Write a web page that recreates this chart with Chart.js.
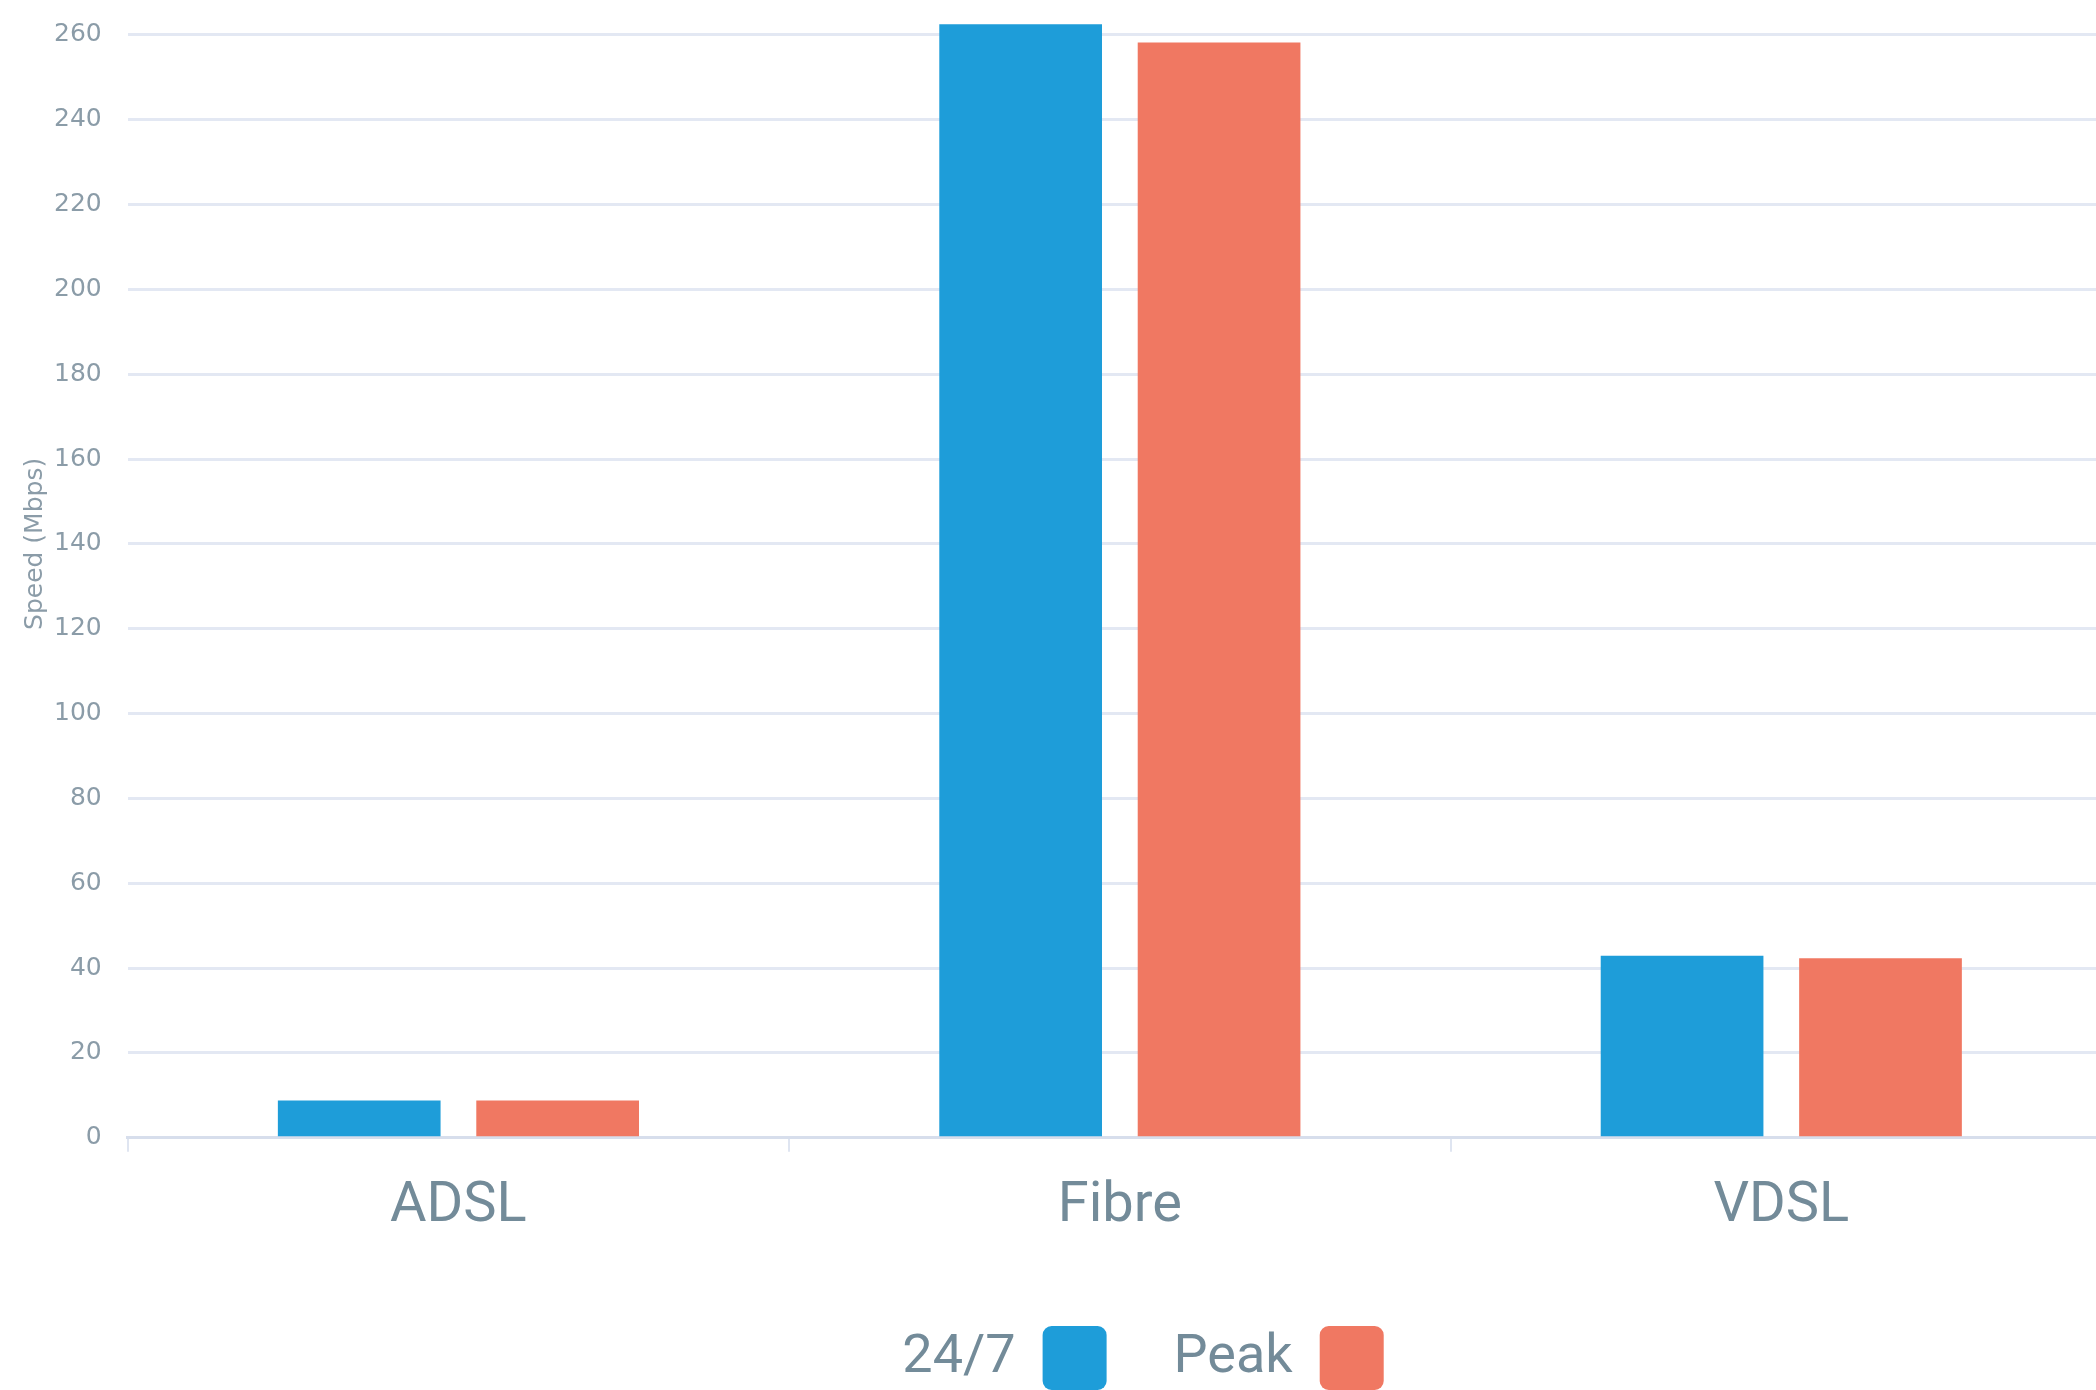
<!DOCTYPE html>
<html>
<head>
<meta charset="utf-8">
<script src="https://cdn.jsdelivr.net/npm/chart.js@4.4.0/dist/chart.umd.min.js"></script>
<style>
    html, body { margin: 0; padding: 0; overflow: hidden; background: #fff; }
    #wrap { position: absolute; left: 0; top: -91px; width: 2112px; height: 1491px; }
</style>
</head>
<body>
<div id="wrap"><canvas id="myChart"></canvas></div>
<script>
'use strict'

var categories = ['ADSL', 'Fibre', 'VDSL'];
var allDay = [8.8, 262.5, 42.9];
var peak = [8.8, 258.2, 42.3];
var yTickValues = [0, 20, 40, 60, 80, 100, 120, 140, 160, 180, 200, 220, 240, 260, 280];

var labelColor = '#738b99';
var tickColor = '#8b9ca8';

// legend sits a bit right of centre in the original
var legendShift = {
    id: 'legendShift',
    afterLayout: function (chart) {
        chart.legend.left += 82;
        chart.legend.right += 82;
    }
};

var ctx = document.getElementById('myChart').getContext('2d');

var chart = new Chart(ctx, {
    type: 'bar',
    data: {
        labels: categories,
        datasets: [{
                label: '24/7',
                backgroundColor: '#1e9dd9',
                data: allDay,
        },
            {
                label: 'Peak',
                backgroundColor: '#f07862',
                data: peak,
        }]
    },
    plugins: [legendShift],
    options: {
        animation: false,
        responsive: true,
        maintainAspectRatio: false,
        barPercentage: 0.82,
        categoryPercentage: 0.6,
        layout: {
            padding: { top: 0, left: 10, right: 0, bottom: 0 }
        },
        plugins: {
            tooltip: { enabled: false },
            legend: {
                display: true,
                position: 'bottom',
                rtl: true,
                reverse: true,
                textDirection: 'ltr',
                labels: {
                    color: labelColor,
                    font: { family: 'Roboto', size: 54 },
                    boxWidth: 64,
                    boxHeight: 64,
                    padding: 67,
                    useBorderRadius: true,
                    borderRadius: 9
                }
            }
        },
        scales: {
            x: {
                grid: {
                    drawOnChartArea: false,
                    drawTicks: true,
                    tickLength: 14,
                    color: '#dfe5f1',
                    lineWidth: 2,
                    offset: true
                },
                border: { color: '#d7deec', width: 3 },
                ticks: {
                    color: labelColor,
                    font: { family: 'Roboto', size: 56 },
                    padding: 22
                },
                afterFit: function (scale) {
                    scale.height -= 4;
                }
            },
            y: {
                min: 0,
                max: 280,
                afterBuildTicks: function (axis) {
                    axis.ticks = yTickValues.map(function (v) { return { value: v }; });
                },
                grid: { color: '#e3e8f3', lineWidth: 3, drawTicks: false },
                border: { display: false },
                ticks: {
                    color: tickColor,
                    font: { family: 'DejaVu Sans', size: 25 },
                    padding: 26
                },
                title: {
                    display: true,
                    text: 'Speed (Mbps)',
                    color: tickColor,
                    font: { family: 'DejaVu Sans', size: 25 },
                    padding: { top: 10, bottom: -22 }
                }
            }
        }
    }
});
</script>
</body>
</html>
